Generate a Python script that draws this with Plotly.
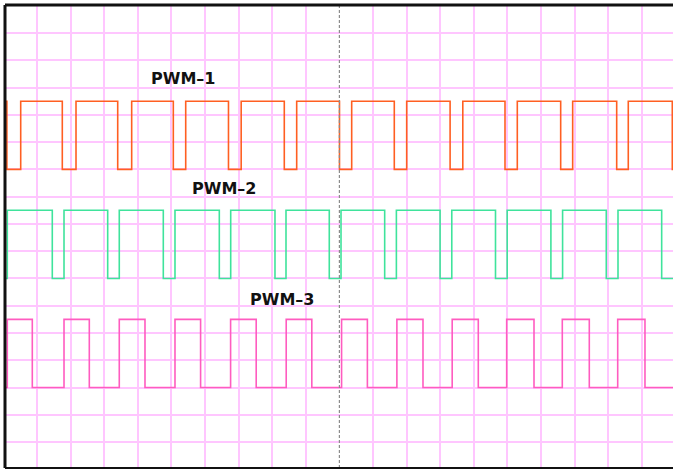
import plotly.graph_objects as go

# Time axis in screen divisions, amplitude axis in vertical divisions.
T_START, T_END = 0.0476, 19.929
Y_MIN, Y_MAX = 0.049, 17.027

# Edge times (divisions) for each PWM channel.
pwm1_rise = [0.515, 2.161, 3.818, 5.426, 7.077, 8.729, 10.366, 12.003,
             13.673, 15.295, 16.943, 18.598]
pwm1_fall = [0.104, 1.753, 3.402, 5.057, 6.699, 8.360, 10.003, 11.634,
             13.295, 14.929, 16.586, 18.253, 19.908]
pwm1_levels = (11.0, 13.5)   # low, high
pwm1_start_high = True

pwm2_rise = [0.116, 1.804, 3.449, 5.107, 6.765, 8.411, 10.048, 11.696,
             13.345, 14.994, 16.643, 18.292]
pwm2_fall = [1.455, 3.104, 4.759, 6.426, 8.083, 9.699, 11.348, 12.997,
             14.646, 16.295, 17.943, 19.592]
pwm2_levels = (7.0, 9.5)
pwm2_start_high = False

pwm3_rise = [0.116, 1.804, 3.449, 5.107, 6.762, 8.417, 10.065, 11.711,
             13.357, 14.979, 16.634, 18.283]
pwm3_fall = [0.860, 2.557, 4.214, 5.869, 7.524, 9.179, 10.833, 12.488,
             14.134, 15.792, 17.438, 19.095]
pwm3_levels = (3.0, 5.5)
pwm3_start_high = False

labels = ["PWM–1", "PWM–2", "PWM–3"]
label_pos = [(5.36, 14.35), (6.565, 10.29), (8.30, 6.21)]
colors = ["#ff5f22", "#3fe39c", "#ff5cc0"]

CURSOR_T = 10
x_divisions = [t for t in range(1, 20) if t != CURSOR_T]
y_divisions = list(range(1, 17))


def square_wave(rise, fall, levels, start_high):
    """Step points for an hv line from rise/fall edge times."""
    low, high = levels
    edges = sorted([(t, high) for t in rise] + [(t, low) for t in fall])
    xs = [T_START]
    ys = [high if start_high else low]
    for t, lvl in edges:
        xs.append(t)
        ys.append(lvl)
    xs.append(T_END)
    ys.append(ys[-1])
    return xs, ys


fig = go.Figure()
channels = [
    (pwm1_rise, pwm1_fall, pwm1_levels, pwm1_start_high),
    (pwm2_rise, pwm2_fall, pwm2_levels, pwm2_start_high),
    (pwm3_rise, pwm3_fall, pwm3_levels, pwm3_start_high),
]
for (rise, fall, lv, sh), name, col in zip(channels, labels, colors):
    xs, ys = square_wave(rise, fall, lv, sh)
    fig.add_trace(go.Scatter(x=xs, y=ys, mode="lines", name=name,
                             line=dict(color=col, width=1.6, shape="hv"),
                             hoverinfo="skip"))

for (tx, ty), text in zip(label_pos, labels):
    fig.add_annotation(x=tx, y=ty, text=f"<b>{text}</b>", showarrow=False,
                       font=dict(family="DejaVu Sans", size=16, color="#111111"))

# Cursor line
fig.add_shape(type="line", xref="x", yref="paper", x0=CURSOR_T, x1=CURSOR_T,
              y0=0, y1=1, line=dict(color="#8c8c8c", width=1.2, dash="3px,2px"),
              layer="above")

# Frame: left, top and bottom edges
fig.add_shape(type="line", xref="paper", yref="paper", x0=0, x1=0, y0=0, y1=1,
              line=dict(color="#111111", width=3))
fig.add_shape(type="line", xref="paper", yref="paper", x0=0, x1=1, y0=1, y1=1,
              line=dict(color="#111111", width=3))
fig.add_shape(type="line", xref="paper", yref="paper", x0=0, x1=1, y0=0, y1=0,
              line=dict(color="#111111", width=2))

grid = "#ffc6ff"
fig.update_xaxes(range=[T_START, T_END], tickmode="array", tickvals=x_divisions,
                 showgrid=True, gridcolor=grid, gridwidth=1.6, zeroline=False,
                 showticklabels=False, ticks="", showline=False)
fig.update_yaxes(range=[Y_MIN, Y_MAX], tickmode="array", tickvals=y_divisions,
                 showgrid=True, gridcolor=grid, gridwidth=1.6, zeroline=False,
                 showticklabels=False, ticks="", showline=False)

fig.update_layout(width=673, height=469, showlegend=False,
                  margin=dict(l=5, r=0, t=5, b=1, pad=0),
                  paper_bgcolor="white", plot_bgcolor="white")

fig.write_html("out.html")
